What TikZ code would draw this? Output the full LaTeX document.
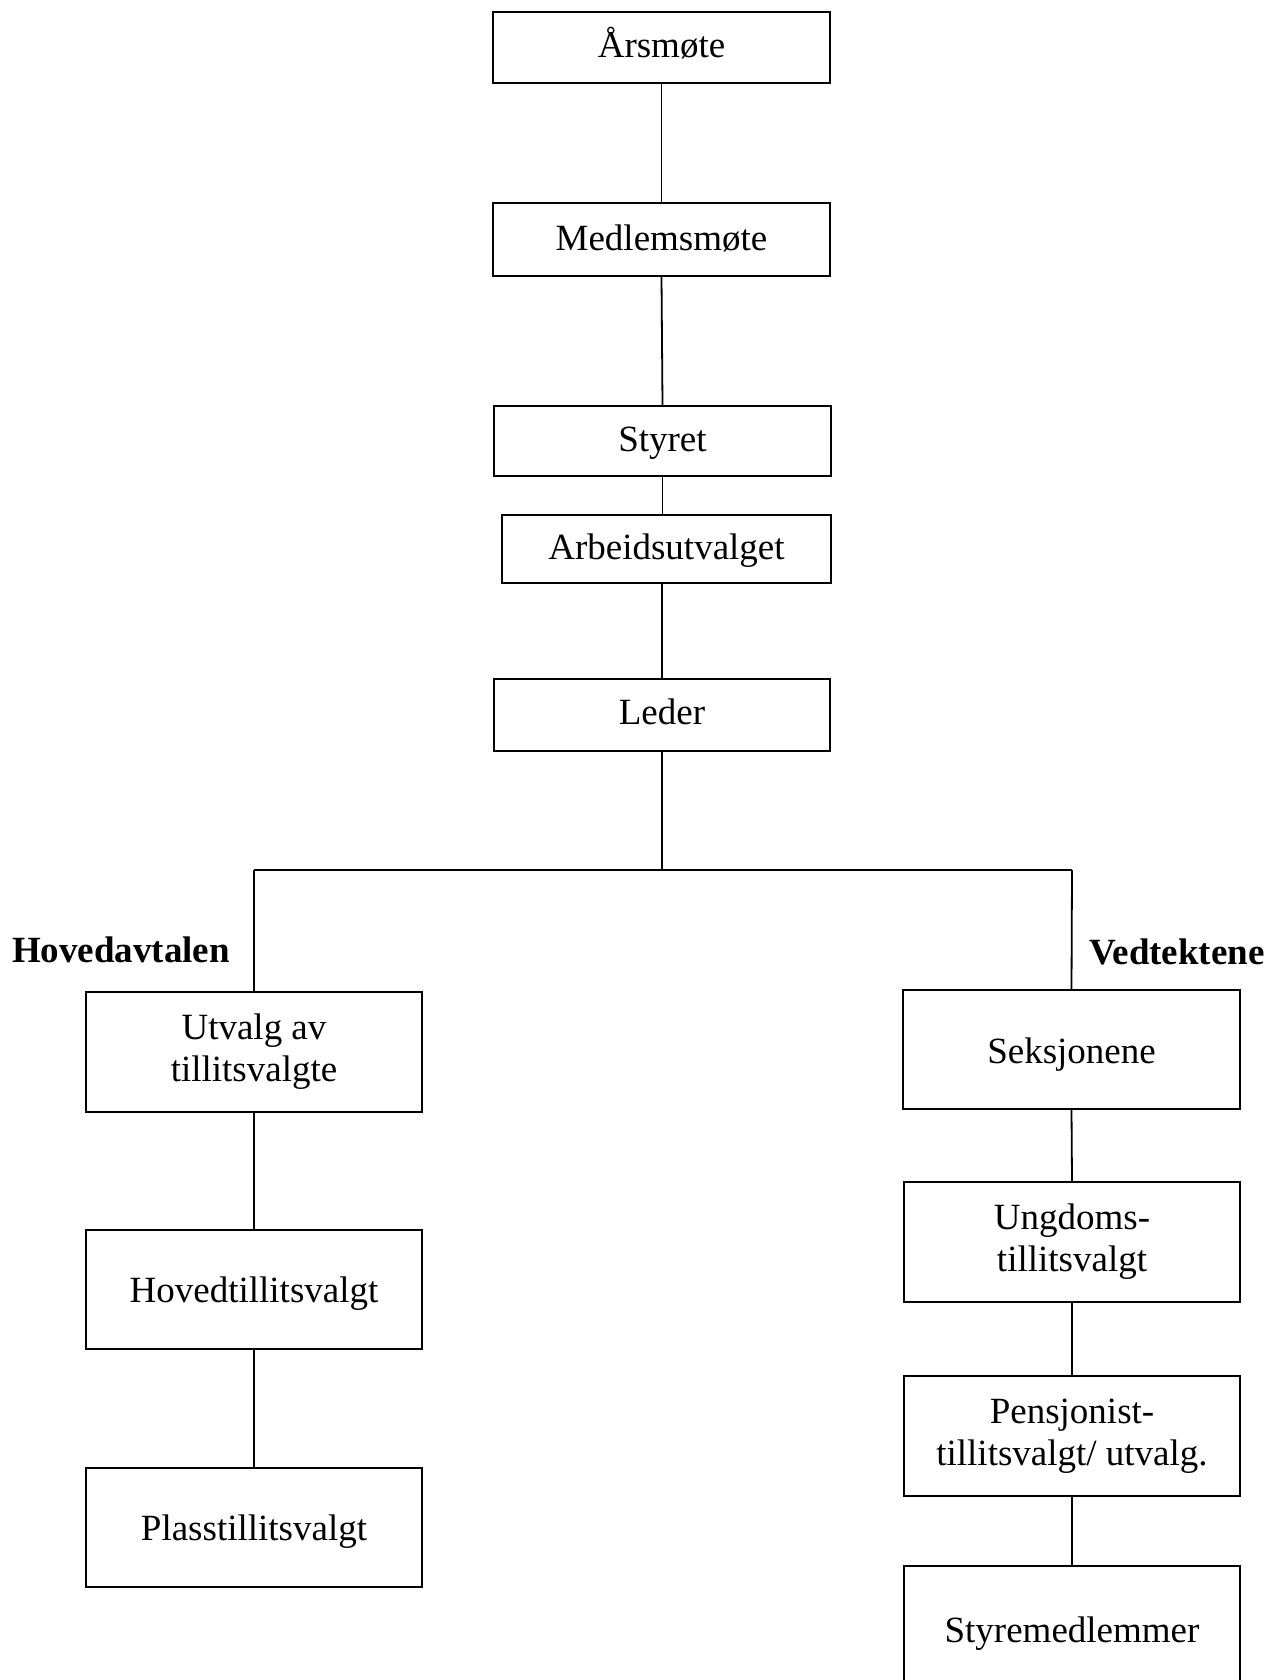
\documentclass[tikz,border=0pt]{standalone}
\usepackage{fontspec}
\setmainfont{Liberation Serif}
\begin{document}
\begin{tikzpicture}[x=0.5pt,y=-0.5pt,
  box/.style={draw, line width=1pt, inner sep=0pt, align=center,
    font=\fontsize{18.5pt}{21pt}\selectfont},
  small/.style={box, text height=14.5pt, text depth=4pt},
  big/.style={box, text height=17pt, text depth=4pt},
  lbl/.style={inner sep=0pt, font=\fontsize{18.5pt}{21pt}\selectfont\bfseries},
  conn/.style={line width=0.9pt}]
\clip (0,0) rectangle (1277,1680);
\fill[white] (0,0) rectangle (1277,1680);
% main column
\node[small, minimum width=168.5pt, minimum height=35.5pt] (aars) at (661.5,47.5) {Årsmøte};
\node[small, minimum width=168.5pt, minimum height=36.5pt] (medl) at (661.5,239.5) {Medlemsmøte};
\node[small, minimum width=168.5pt, minimum height=35pt] (styr) at (662.5,441) {Styret};
\node[small, minimum width=164.5pt, minimum height=34pt] (arb) at (666.5,549) {Arbeidsutvalget};
\node[small, minimum width=168pt, minimum height=36pt, text height=13.5pt] (led) at (662,715) {Leder};
% left branch
\node[box, minimum width=168pt, minimum height=60pt] (utv) at (254,1052) {Utvalg av\\tillitsvalgte};
\node[big, minimum width=168pt, minimum height=59.5pt] (hov) at (254,1289.5) {Hovedtillitsvalgt};
\node[big, minimum width=168pt, minimum height=59.5pt] (pla) at (254,1527.5) {Plasstillitsvalgt};
% right branch
\node[big, minimum width=168.5pt, minimum height=59.5pt, text height=17.5pt] (sek) at (1071.5,1049.5) {Seksjonene};
\node[box, minimum width=168pt, minimum height=60pt] (ung) at (1072,1242) {Ungdoms-\\tillitsvalgt};
\node[box, minimum width=168pt, minimum height=60pt] (pen) at (1072,1436) {Pensjonist-\\tillitsvalgt/ utvalg.};
\node[big, minimum width=168pt, minimum height=60pt, text height=20pt] (sty2) at (1072,1626) {Styremedlemmer};
% labels
\node[lbl] (hlab) at (121,950) {Hovedavtalen};
\node[lbl] (vlab) at (1177,952) {Vedtektene};
% connectors
\coordinate (jl) at (254,870);
\coordinate (jr) at (1072,870);
\draw[conn] (aars.south) -- (medl.north);
\draw[conn] (medl.south) -- (styr.north);
\draw[conn] (styr.south) -- (styr.south |- arb.north);
\draw[conn] (led.north |- arb.south) -- (led.north);
\draw[conn] (led.south) -- (led.south |- jl);
\draw[conn] (jl) -- (jr);
\draw[conn] (jl) -- (utv.north);
\draw[conn] (jr) -- (sek.north);
\draw[conn] (utv.south) -- (hov.north);
\draw[conn] (hov.south) -- (pla.north);
\draw[conn] (sek.south) -- (ung.north);
\draw[conn] (ung.south) -- (pen.north);
\draw[conn] (pen.south) -- (sty2.north);
\end{tikzpicture}
\end{document}
